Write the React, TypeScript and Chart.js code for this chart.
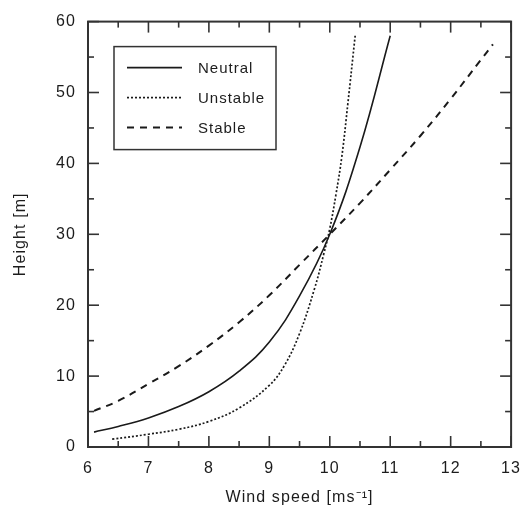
import React, { useEffect, useRef } from "react";
import { Chart, registerables } from "chart.js";

Chart.register(...registerables);

// ---- Data ----
const neutralX = [6.1, 6.5, 7, 7.5, 8, 8.5, 9, 9.5, 10, 10.5, 11];
const neutralY = [2.1, 2.9, 4.1, 5.7, 7.8, 10.7, 14.8, 21.3, 30, 42.3, 58];

const unstableX = [6.4, 7, 7.5, 8, 8.5, 9, 9.25, 9.5, 9.75, 9.9, 10, 10.1, 10.2, 10.3, 10.42];
const unstableY = [1.1, 1.8, 2.5, 3.6, 5.5, 8.7, 11.5, 16.0, 22.4, 27.2, 30.8, 35.5, 41, 48.5, 58];

const stableX = [6.1, 6.5, 7, 7.5, 8, 8.5, 9, 9.5, 10, 10.5, 11, 11.5, 12, 12.5, 12.7];
const stableY = [5.1, 6.5, 8.9, 11.4, 14.3, 17.6, 21.4, 25.7, 30, 34.4, 39.1, 43.9, 49.1, 54.6, 56.8];

const seriesLabels = ["Neutral", "Unstable", "Stable"];
const xTickValues = [6, 7, 8, 9, 10, 11, 12, 13];
const yTickValues = [0, 10, 20, 30, 40, 50, 60];
const xAxisTitle = "Wind speed [ms\u207B\u00B9]";
const yAxisTitle = "Height [m]";

const X_MIN = xTickValues[0];
const X_MAX = xTickValues[xTickValues.length - 1];
const Y_MIN = yTickValues[0];
const Y_MAX = yTickValues[yTickValues.length - 1];

const FONT = "'Liberation Sans', Arial, Helvetica, sans-serif";
const INK = "#1c1c1c";

const toPts = (xs: number[], ys: number[]) => xs.map((x, i) => ({ x, y: ys[i] }));

const framePlugin = {
  id: "frame",
  beforeDraw(chart: any) {
    (chart.ctx as any).letterSpacing = "1.1px";
  },
  afterDraw(chart: any) {
    const { ctx, chartArea: a, scales } = chart;
    const xs = scales.x;
    const ys = scales.y;
    ctx.save();
    (ctx as any).letterSpacing = "0px";
    ctx.strokeStyle = "#333";
    ctx.lineWidth = 2;
    ctx.strokeRect(a.left, a.top, a.right - a.left, a.bottom - a.top);
    ctx.lineWidth = 1.6;
    const seg = (x1: number, y1: number, x2: number, y2: number) => {
      ctx.beginPath();
      ctx.moveTo(x1, y1);
      ctx.lineTo(x2, y2);
      ctx.stroke();
    };
    for (let v = X_MIN; v <= X_MAX + 1e-9; v += 0.5) {
      const px = xs.getPixelForValue(v);
      const major = Math.abs(v - Math.round(v)) < 1e-6;
      const L = major ? 11 : 6;
      seg(px, a.bottom, px, a.bottom - L);
      seg(px, a.top, px, a.top + L);
    }
    for (let v = Y_MIN; v <= Y_MAX + 1e-9; v += 5) {
      const py = ys.getPixelForValue(v);
      const major = v % 10 === 0;
      const L = major ? 11 : 6;
      seg(a.left, py, a.left + L, py);
      seg(a.right, py, a.right - L, py);
    }

    // Legend box inside plot
    const bx = a.left + 26;
    const by = a.top + 25;
    const bw = 162;
    const bh = 103;
    ctx.lineWidth = 1.5;
    ctx.strokeStyle = "#333";
    ctx.strokeRect(bx, by, bw, bh);
    const ds = chart.data.datasets;
    ds.forEach((d: any, i: number) => {
      const ry = by + 21 + i * 30;
      ctx.save();
      ctx.strokeStyle = d.borderColor;
      ctx.lineWidth = d.borderWidth;
      ctx.setLineDash(d.borderDash || []);
      seg(bx + 13, ry, bx + 68, ry);
      ctx.restore();
      ctx.save();
      (ctx as any).letterSpacing = "1px";
      ctx.fillStyle = INK;
      ctx.font = `15px ${FONT}`;
      ctx.textBaseline = "middle";
      ctx.textAlign = "left";
      ctx.fillText(d.label, bx + 84, ry + 1);
      ctx.restore();
    });
    ctx.restore();
  },
};

export default function App() {
  const ref = useRef<HTMLCanvasElement | null>(null);

  useEffect(() => {
    if (!ref.current) return;
    const chart = new Chart(ref.current, {
      type: "scatter",
      data: {
        datasets: [
          {
            label: seriesLabels[0],
            data: toPts(neutralX, neutralY),
            showLine: true,
            borderColor: "#1a1a1a",
            borderWidth: 1.6,
            pointRadius: 0,
            tension: 0.4,
          },
          {
            label: seriesLabels[1],
            data: toPts(unstableX, unstableY),
            showLine: true,
            borderColor: "#1a1a1a",
            borderWidth: 1.7,
            borderDash: [2, 2],
            pointRadius: 0,
            tension: 0.4,
          },
          {
            label: seriesLabels[2],
            data: toPts(stableX, stableY),
            showLine: true,
            borderColor: "#1a1a1a",
            borderWidth: 2,
            borderDash: [7, 6],
            pointRadius: 0,
            tension: 0.4,
          },
        ] as any,
      },
      options: {
        animation: false,
        responsive: false,
        devicePixelRatio: 1,
        layout: { padding: { top: 17, right: 14, left: 0, bottom: 0 } },
        plugins: { legend: { display: false }, tooltip: { enabled: false } },
        scales: {
          x: {
            type: "linear",
            min: X_MIN,
            max: X_MAX,
            afterBuildTicks: (s: any) => {
              s.ticks = xTickValues.map((v) => ({ value: v }));
            },
            ticks: { padding: 12, color: INK, font: { family: FONT, size: 16 } },
            grid: { display: false, drawTicks: false },
            border: { display: false },
            title: {
              display: true,
              text: xAxisTitle,
              color: INK,
              font: { family: FONT, size: 16 },
              padding: { top: 0, bottom: 1 },
            },
            afterFit: (s: any) => {
              s.height = 61;
            },
          },
          y: {
            type: "linear",
            min: Y_MIN,
            max: Y_MAX,
            afterBuildTicks: (s: any) => {
              s.ticks = yTickValues.map((v) => ({ value: v }));
            },
            ticks: { padding: 12, color: INK, font: { family: FONT, size: 16 } },
            grid: { display: false, drawTicks: false },
            border: { display: false },
            title: {
              display: true,
              text: yAxisTitle,
              color: INK,
              font: { family: FONT, size: 16 },
              padding: { top: 11, bottom: 0 },
            },
            afterFit: (s: any) => {
              s.width = 88;
            },
          },
        },
      } as any,
      plugins: [framePlugin],
    });
    return () => chart.destroy();
  }, []);

  return (
    <div style={{ position: "fixed", left: 0, top: 0, width: 532, height: 508, background: "#fff" }}>
      <canvas ref={ref} width={532} height={508} style={{ display: "block" }} />
    </div>
  );
}
